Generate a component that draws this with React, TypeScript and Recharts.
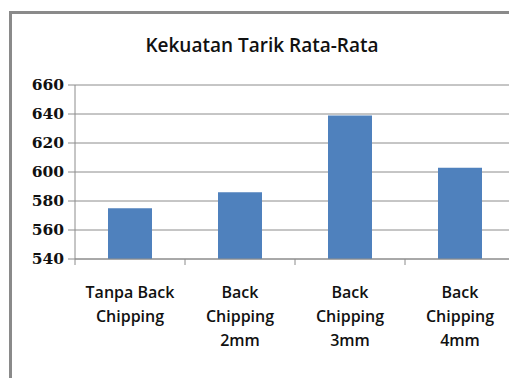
import React from 'react';
import { BarChart, Bar, XAxis, YAxis, CartesianGrid } from 'recharts';

const categories = ['Tanpa Back Chipping', 'Back Chipping 2mm', 'Back Chipping 3mm', 'Back Chipping 4mm'];
const labelLines = [
    ['Tanpa Back', 'Chipping'],
    ['Back', 'Chipping', '2mm'],
    ['Back', 'Chipping', '3mm'],
    ['Back', 'Chipping', '4mm'],
];
const values = [575, 586, 639, 603];
const yTicks = [540, 560, 580, 600, 620, 640, 660];

const data = categories.map((name, i) => ({ name, lines: labelLines[i], value: values[i] }));

const labelFont = '"Open Sans", "Liberation Sans", sans-serif';
const numberFont = '"DejaVu Serif", "Liberation Serif", serif';

const CategoryTick = ({ x, y, index }: any) => {
    const lines = labelLines[index] || [];
    const half = 55;
    return (
        <g>
            <line x1={x - half} y1={y - 8} x2={x - half} y2={y - 2} stroke="#8c8c8c" />
            {lines.map((t: string, i: number) => (
                <text
                    key={i}
                    x={x}
                    y={y + 31 + i * 24}
                    textAnchor="middle"
                    fontFamily={labelFont}
                    fontWeight={600}
                    fontSize={16}
                    fill="#111"
                >
                    {t}
                </text>
            ))}
        </g>
    );
};

const ValueTick = ({ x, y, payload }: any) => (
    <text
        x={x - 2}
        y={y + 5}
        textAnchor="end"
        fontFamily={numberFont}
        fontWeight={700}
        fontSize={15.5}
        fill="#111"
    >
        {payload.value}
    </text>
);

export default function App() {
    return (
        <div style={{ position: 'fixed', left: 0, top: 0, width: 509, height: 378, overflow: 'hidden', background: '#fff' }}>
            <div
                style={{
                    position: 'absolute',
                    left: 9,
                    top: 11,
                    width: 560,
                    height: 420,
                    borderLeft: '3px solid #8a8a8a',
                    borderTop: '3px solid #8a8a8a',
                }}
            />
            <div
                style={{
                    position: 'absolute',
                    left: 62,
                    width: 400,
                    top: 32,
                    textAlign: 'center',
                    fontFamily: labelFont,
                    fontWeight: 600,
                    fontSize: 19,
                    color: '#111',
                }}
            >
                Kekuatan Tarik Rata-Rata
            </div>
            <div style={{ position: 'absolute', left: 0, top: 0 }}>
                <BarChart
                    width={515}
                    height={378}
                    data={data}
                    margin={{ top: 85, right: 0, left: 0, bottom: 0 }}
                    barCategoryGap="30%"
                >
                    <CartesianGrid vertical={false} stroke="#8c8c8c" />
                    <XAxis
                        dataKey="name"
                        height={119}
                        interval={0}
                        axisLine={{ stroke: '#8c8c8c' }}
                        tickLine={false}
                        tick={<CategoryTick />}
                    />
                    <YAxis
                        width={75}
                        domain={[540, 660]}
                        ticks={yTicks}
                        interval={0}
                        tickSize={7}
                        axisLine={{ stroke: '#8c8c8c' }}
                        tickLine={{ stroke: '#8c8c8c' }}
                        tick={<ValueTick />}
                    />
                    <Bar dataKey="value" fill="#4f81bd" isAnimationActive={false} />
                </BarChart>
            </div>
        </div>
    );
}
